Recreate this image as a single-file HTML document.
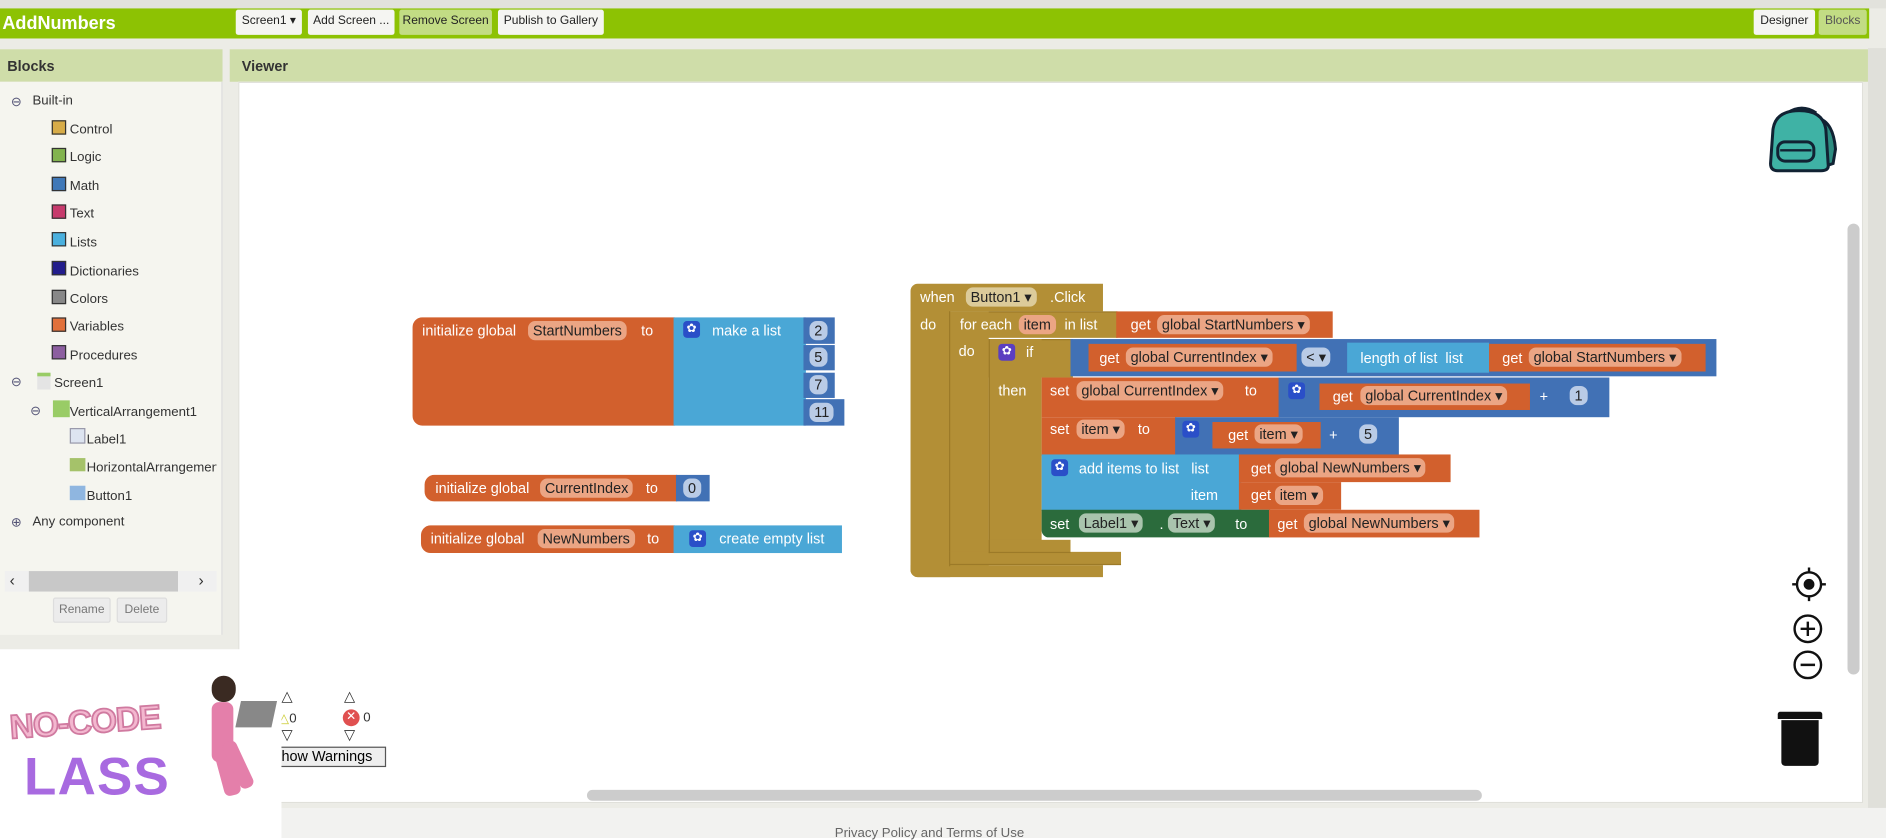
<!DOCTYPE html>
<html><head><meta charset="utf-8">
<style>
html,body{margin:0;padding:0;width:1886px;height:838px;overflow:hidden;background:#fff}
#w{position:absolute;left:0;top:0;width:1568px;height:697px;transform:scale(1.20281,1.20230);transform-origin:0 0;font-family:"Liberation Sans",Arial,sans-serif;background:#ecece6}
#w div{position:absolute;box-sizing:border-box}
.t{color:#fff;font-size:12px;white-space:nowrap;line-height:14px}
.o{background:#d2602d}
.lb{background:#4aa7d6}
.mb{background:#4171b5}
.g{background:#b38f36}
.dg{background:#2b6b3c}
.p{border-radius:6px;font-size:12px;line-height:16px;height:16px;padding:0 4px;white-space:nowrap;color:#222}
.po{background:#eba584}
.pb{background:#b9cbe6}
.pg{background:#a9c4ad}
.gear{width:14px;height:14px;border-radius:3px;background:#2a4fc8;color:#fff;font-size:10px;line-height:14px;text-align:center}
.btn{background:#f5f5f2;border-radius:2px;font-size:10px;line-height:20px;height:21px;text-align:center;color:#222}
.tr{font-size:11px;color:#333;white-space:nowrap}
.sq{width:12px;height:12px;border:1px solid #333}
</style></head><body>
<div id="w">
<!-- top bar -->
<div style="left:0;top:0;width:1568px;height:7px;background:#e2e2dc"></div>
<div style="left:0;top:7px;width:1554px;height:25px;background:#8dc203"></div>
<div style="left:2px;top:11px;font-size:15px;font-weight:bold;color:#fff">AddNumbers</div>
<div class="btn" style="left:196px;top:8px;width:55px">Screen1 ▾</div>
<div class="btn" style="left:256px;top:8px;width:72px">Add Screen ...</div>
<div class="btn" style="left:332px;top:8px;width:77px;background:#c2dc84">Remove Screen</div>
<div class="btn" style="left:414px;top:8px;width:88px">Publish to Gallery</div>
<div class="btn" style="left:1458px;top:8px;width:51px">Designer</div>
<div class="btn" style="left:1512px;top:8px;width:40px;background:#c2dc84;color:#555">Blocks</div>
<!-- headers -->
<div style="left:0;top:41px;width:185px;height:27px;background:#cfdda9;font-size:12px;font-weight:bold;color:#333;padding:7px 6px">Blocks</div>
<div style="left:191px;top:41px;width:1362px;height:27px;background:#cfdda9;font-size:12px;font-weight:bold;color:#333;padding:7px 10px">Viewer</div>
<!-- left panel -->
<div style="left:0;top:68px;width:185px;height:460px;background:#f5f5ef;border-right:1px solid #ddd"></div>
<div class="tr" style="left:9px;top:78px;color:#557">⊖</div><div class="tr" style="left:27px;top:78px">Built-in</div>
<div class="sq" style="left:43px;top:100px;background:#d7ac48"></div><div class="tr" style="left:58px;top:102px">Control</div>
<div class="sq" style="left:43px;top:123px;background:#82b34e"></div><div class="tr" style="left:58px;top:125px">Logic</div>
<div class="sq" style="left:43px;top:147px;background:#3f78b8"></div><div class="tr" style="left:58px;top:149px">Math</div>
<div class="sq" style="left:43px;top:170px;background:#c73a6c"></div><div class="tr" style="left:58px;top:172px">Text</div>
<div class="sq" style="left:43px;top:193px;background:#4ab0de"></div><div class="tr" style="left:58px;top:196px">Lists</div>
<div class="sq" style="left:43px;top:217px;background:#221c8c"></div><div class="tr" style="left:58px;top:220px">Dictionaries</div>
<div class="sq" style="left:43px;top:241px;background:#888"></div><div class="tr" style="left:58px;top:243px">Colors</div>
<div class="sq" style="left:43px;top:264px;background:#e2703a"></div><div class="tr" style="left:58px;top:266px">Variables</div>
<div class="sq" style="left:43px;top:287px;background:#8c5ea0"></div><div class="tr" style="left:58px;top:290px">Procedures</div>
<div class="tr" style="left:9px;top:311px;color:#557">⊖</div><div style="left:31px;top:310px;width:11px;height:14px;background:#e4e4e4;border-top:3px solid #9c6"></div><div class="tr" style="left:45px;top:313px">Screen1</div>
<div class="tr" style="left:25px;top:335px;color:#557">⊖</div><div style="left:44px;top:333px;width:14px;height:14px;background:#9c6"></div><div class="tr" style="left:58px;top:337px">VerticalArrangement1</div>
<div style="left:58px;top:356px;width:13px;height:13px;background:#dde4f0;border:1px solid #99a"></div><div class="tr" style="left:72px;top:360px">Label1</div>
<div style="left:58px;top:381px;width:13px;height:11px;background:#a5c26a"></div><div class="tr" style="left:72px;top:383px;width:108px;overflow:hidden">HorizontalArrangemen</div>
<div style="left:58px;top:404px;width:13px;height:12px;background:#8fb6e0"></div><div class="tr" style="left:72px;top:407px">Button1</div>
<div class="tr" style="left:9px;top:428px;color:#557">⊕</div><div class="tr" style="left:27px;top:428px">Any component</div>
<div style="left:4px;top:475px;width:176px;height:17px;background:#f0f0f0"></div>
<div style="left:24px;top:475px;width:124px;height:17px;background:#c8c8c8"></div>
<div class="tr" style="left:8px;top:475px;font-size:13px">‹</div><div class="tr" style="left:165px;top:475px;font-size:13px">›</div>
<div class="btn" style="left:44px;top:497px;width:48px;background:#ececec;color:#777;border:1px solid #ddd">Rename</div>
<div class="btn" style="left:97px;top:497px;width:42px;background:#ececec;color:#777;border:1px solid #ddd">Delete</div>
<!-- viewer canvas -->
<div style="left:198px;top:68px;width:1351px;height:600px;background:#fff;border:1px solid #e0e0da"></div>
<div style="left:1553px;top:40px;width:15px;height:640px;background:#e0e0da"></div>
<div style="left:1536px;top:186px;width:10px;height:375px;background:#ccc;border-radius:5px"></div>
<div style="left:488px;top:657px;width:744px;height:9px;background:#ccc;border-radius:5px"></div>
<div style="left:0;top:672px;width:1568px;height:25px;background:#f2f2f0"></div>
<div style="left:694px;top:687px;font-size:11px;color:#666">Privacy Policy and Terms of Use</div>
<!-- backpack -->
<svg style="position:absolute;left:1466px;top:84px" width="64" height="62" viewBox="0 0 64 62"><path d="M20 10 Q32 2 44 10" fill="none" stroke="#123" stroke-width="2.5"/><path d="M44 14 Q58 16 60 40 L58 52 L52 54 Z" fill="#2d8c80" stroke="#123" stroke-width="2.5"/><path d="M8 24 Q10 8 30 8 Q50 8 52 24 L54 54 Q54 58 48 58 L12 58 Q6 58 6 52 Z" fill="#3fb2a5" stroke="#123" stroke-width="2.5"/><rect x="12" y="34" width="30" height="16" rx="6" fill="#3fb2a5" stroke="#123" stroke-width="2.5"/><line x1="14" y1="41" x2="40" y2="41" stroke="#123" stroke-width="2"/></svg>
<!-- zoom controls -->
<svg style="position:absolute;left:1488px;top:471px" width="32" height="100" viewBox="0 0 32 100"><circle cx="16" cy="15" r="10" fill="none" stroke="#111" stroke-width="2"/><circle cx="16" cy="15" r="4.5" fill="#111"/><line x1="2" y1="15" x2="6" y2="15" stroke="#111" stroke-width="2"/><line x1="26" y1="15" x2="30" y2="15" stroke="#111" stroke-width="2"/><line x1="16" y1="1" x2="16" y2="5" stroke="#111" stroke-width="2"/><line x1="16" y1="25" x2="16" y2="29" stroke="#111" stroke-width="2"/><circle cx="15" cy="52" r="11" fill="none" stroke="#111" stroke-width="2"/><line x1="9" y1="52" x2="21" y2="52" stroke="#111" stroke-width="2"/><line x1="15" y1="46" x2="15" y2="58" stroke="#111" stroke-width="2"/><circle cx="15" cy="82" r="11" fill="none" stroke="#111" stroke-width="2"/><line x1="9" y1="82" x2="21" y2="82" stroke="#111" stroke-width="2"/></svg>
<div style="left:1478px;top:592px;width:37px;height:6px;background:#111;border-radius:2px 2px 0 0"></div>
<div style="left:1481px;top:599px;width:31px;height:38px;background:#111;border-radius:0 0 3px 3px"></div>
<!-- warnings -->
<div class="tr" style="left:234px;top:572px;font-size:12px">△</div><div class="tr" style="left:286px;top:572px;font-size:12px">△</div>
<div class="tr" style="left:232px;top:591px;font-size:11px"><span style="color:#cc3">△</span>0</div>
<div style="left:285px;top:590px;width:14px;height:14px;border-radius:7px;background:#e05050;color:#fff;font-size:10px;line-height:14px;text-align:center">✕</div><div class="tr" style="left:302px;top:591px;font-size:11px">0</div>
<div class="tr" style="left:234px;top:604px;font-size:12px">▽</div><div class="tr" style="left:286px;top:604px;font-size:12px">▽</div>
<div style="left:230px;top:621px;width:91px;height:17px;border:1px solid #555;background:#eee;font-size:12px;line-height:15px;padding-left:3px">how Warnings</div>
<!-- logo -->
<div style="left:0;top:540px;width:234px;height:157px;background:#fff"></div>
<div style="left:8px;top:585px;font-size:28px;font-weight:bold;color:#f3b7cf;-webkit-text-stroke:1.5px #d07aa0;transform:rotate(-4deg);letter-spacing:-1px">NO-CODE</div>
<div style="left:20px;top:625px;font-size:44px;font-weight:bold;color:#a86ae0;letter-spacing:1px;line-height:44px">LASS</div>
<div style="left:176px;top:562px;width:20px;height:22px;border-radius:10px;background:#3a2a22"></div>
<div style="left:176px;top:584px;width:18px;height:50px;background:#e47faa;border-radius:6px"></div>
<div style="left:182px;top:620px;width:14px;height:42px;background:#e47faa;border-radius:5px;transform:rotate(-15deg)"></div>
<div style="left:192px;top:615px;width:12px;height:42px;background:#e47faa;border-radius:5px;transform:rotate(-25deg)"></div>
<div style="left:198px;top:583px;width:30px;height:22px;background:#888;transform:skewX(-12deg)"></div>

<!-- init StartNumbers -->
<div class="o" style="left:343px;top:264px;width:218px;height:90px;border-radius:8px 0 0 8px"></div>
<div class="t" style="left:351px;top:268px">initialize global</div>
<div class="p po" style="left:439px;top:267px">StartNumbers</div>
<div class="t" style="left:533px;top:268px">to</div>
<div class="lb" style="left:560px;top:264px;width:110px;height:90px"></div>
<div class="gear" style="left:568px;top:267px">✿</div>
<div class="t" style="left:592px;top:268px">make a list</div>
<div class="mb" style="left:668px;top:264px;width:26px;height:22px"></div><div class="p pb" style="left:673px;top:267px">2</div>
<div class="mb" style="left:668px;top:287px;width:26px;height:21px"></div><div class="p pb" style="left:673px;top:289px">5</div>
<div class="mb" style="left:668px;top:310px;width:26px;height:21px"></div><div class="p pb" style="left:673px;top:312px">7</div>
<div class="mb" style="left:668px;top:332px;width:34px;height:22px"></div><div class="p pb" style="left:673px;top:335px">11</div>
<!-- CurrentIndex -->
<div class="o" style="left:353px;top:395px;width:210px;height:22px;border-radius:8px 0 0 8px"></div>
<div class="t" style="left:362px;top:399px">initialize global</div>
<div class="p po" style="left:449px;top:398px">CurrentIndex</div>
<div class="t" style="left:537px;top:399px">to</div>
<div class="mb" style="left:562px;top:395px;width:28px;height:22px"></div><div class="p pb" style="left:568px;top:398px">0</div>
<!-- NewNumbers -->
<div class="o" style="left:350px;top:437px;width:211px;height:23px;border-radius:8px 0 0 8px"></div>
<div class="t" style="left:358px;top:441px">initialize global</div>
<div class="p po" style="left:447px;top:440px">NewNumbers</div>
<div class="t" style="left:538px;top:441px">to</div>
<div class="lb" style="left:560px;top:437px;width:140px;height:23px"></div>
<div class="gear" style="left:573px;top:441px">✿</div>
<div class="t" style="left:598px;top:441px">create empty list</div>

<!-- when Button1.Click -->
<div class="g" style="left:757px;top:236px;width:160px;height:23px;border-radius:6px 0 0 0"></div>
<div class="g" style="left:757px;top:258px;width:33px;height:222px;border-radius:0 0 0 6px"></div>
<div class="g" style="left:757px;top:470px;width:160px;height:10px;border-radius:0 0 0 6px"></div>
<div class="t" style="left:765px;top:240px">when</div>
<div class="p" style="left:803px;top:239px;background:#dccb9a">Button1 ▾</div>
<div class="t" style="left:873px;top:240px">.Click</div>
<div class="t" style="left:765px;top:263px">do</div>
<!-- for each -->
<div class="g" style="left:789px;top:259px;width:140px;height:22px;border:1px solid #9c7a28;border-width:1px 0 0 1px"></div>
<div class="g" style="left:789px;top:259px;width:33px;height:212px;border-left:1px solid #9c7a28"></div>
<div class="g" style="left:789px;top:459px;width:143px;height:11px;border:1px solid #9c7a28;border-width:0 0 1px 1px"></div>
<div class="t" style="left:798px;top:263px">for each</div>
<div class="p po" style="left:847px;top:262px">item</div>
<div class="t" style="left:885px;top:263px">in list</div>
<div class="o" style="left:928px;top:259px;width:180px;height:22px"></div>
<div class="t" style="left:940px;top:263px">get</div>
<div class="p po" style="left:962px;top:262px">global StartNumbers ▾</div>
<div class="t" style="left:797px;top:285px">do</div>
<!-- if -->
<div class="g" style="left:822px;top:282px;width:70px;height:32px;border:1px solid #9c7a28;border-width:1px 0 0 1px"></div>
<div class="g" style="left:822px;top:282px;width:44px;height:178px;border-left:1px solid #9c7a28"></div>
<div class="g" style="left:822px;top:449px;width:68px;height:11px;border:1px solid #9c7a28;border-width:0 0 1px 1px"></div>
<div class="gear" style="left:830px;top:286px;background:#5b3ec0">✿</div>
<div class="t" style="left:853px;top:286px">if</div>
<div class="t" style="left:830px;top:318px">then</div>
<div class="mb" style="left:890px;top:282px;width:537px;height:31px"></div>
<div class="o" style="left:905px;top:286px;width:173px;height:23px"></div>
<div class="t" style="left:914px;top:291px">get</div>
<div class="p po" style="left:936px;top:289px">global CurrentIndex ▾</div>
<div class="p pb" style="left:1082px;top:289px">&lt; ▾</div>
<div class="lb" style="left:1120px;top:285px;width:118px;height:25px"></div>
<div class="t" style="left:1131px;top:291px">length of list&nbsp; list</div>
<div class="o" style="left:1238px;top:286px;width:180px;height:23px"></div>
<div class="t" style="left:1249px;top:291px">get</div>
<div class="p po" style="left:1271px;top:289px">global StartNumbers ▾</div>
<!-- set CurrentIndex -->
<div class="o" style="left:866px;top:314px;width:198px;height:33px"></div>
<div class="t" style="left:873px;top:318px">set</div>
<div class="p po" style="left:895px;top:317px">global CurrentIndex ▾</div>
<div class="t" style="left:1035px;top:318px">to</div>
<div class="mb" style="left:1063px;top:314px;width:275px;height:33px"></div>
<div class="gear" style="left:1071px;top:318px">✿</div>
<div class="o" style="left:1097px;top:319px;width:175px;height:22px"></div>
<div class="t" style="left:1108px;top:323px">get</div>
<div class="p po" style="left:1131px;top:321px">global CurrentIndex ▾</div>
<div class="t" style="left:1280px;top:323px">+</div>
<div class="p pb" style="left:1305px;top:321px">1</div>
<!-- set item -->
<div class="o" style="left:866px;top:347px;width:112px;height:32px"></div>
<div class="t" style="left:873px;top:350px">set</div>
<div class="p po" style="left:895px;top:349px">item ▾</div>
<div class="t" style="left:946px;top:350px">to</div>
<div class="mb" style="left:977px;top:347px;width:186px;height:32px"></div>
<div class="gear" style="left:983px;top:350px">✿</div>
<div class="o" style="left:1008px;top:351px;width:90px;height:22px"></div>
<div class="t" style="left:1021px;top:355px">get</div>
<div class="p po" style="left:1043px;top:353px">item ▾</div>
<div class="t" style="left:1105px;top:355px">+</div>
<div class="p pb" style="left:1130px;top:353px">5</div>
<!-- add items -->
<div class="lb" style="left:866px;top:378px;width:166px;height:47px"></div>
<div class="gear" style="left:874px;top:382px">✿</div>
<div class="t" style="left:897px;top:383px">add items to list&nbsp;&nbsp; list</div>
<div class="t" style="left:990px;top:405px">item</div>
<div class="o" style="left:1030px;top:378px;width:176px;height:23px"></div>
<div class="t" style="left:1040px;top:383px">get</div>
<div class="p po" style="left:1060px;top:381px">global NewNumbers ▾</div>
<div class="o" style="left:1030px;top:401px;width:85px;height:23px"></div>
<div class="t" style="left:1040px;top:405px">get</div>
<div class="p po" style="left:1060px;top:404px">item ▾</div>
<!-- set Label1 -->
<div class="dg" style="left:866px;top:424px;width:190px;height:23px;border-radius:0 0 0 6px"></div>
<div class="t" style="left:873px;top:429px">set</div>
<div class="p pg" style="left:897px;top:427px">Label1 ▾</div>
<div class="t" style="left:964px;top:429px">.</div>
<div class="p pg" style="left:971px;top:427px">Text ▾</div>
<div class="t" style="left:1027px;top:429px">to</div>
<div class="o" style="left:1055px;top:424px;width:175px;height:23px"></div>
<div class="t" style="left:1062px;top:429px">get</div>
<div class="p po" style="left:1084px;top:427px">global NewNumbers ▾</div>
</div>
</body></html>
